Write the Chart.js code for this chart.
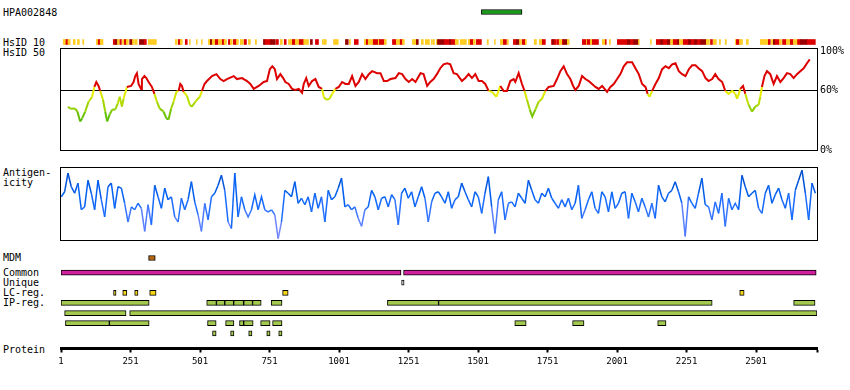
<!DOCTYPE html>
<html>
<head>
<meta charset="utf-8">
<script src="https://cdn.jsdelivr.net/npm/chart.js"></script>
<style>
body { margin:0; background:#fff; width:850px; height:390px; position:relative; overflow:hidden;
       font:10px "DejaVu Sans Mono", monospace; color:#000; }
canvas { position:absolute; left:0; }
.lbl { position:absolute; left:3px; line-height:10px; white-space:pre; }
</style>
</head>
<body>
<div class="lbl" style="top:8px">HPA002848</div>
<div class="lbl" style="top:38px">HsID 10</div>
<div class="lbl" style="top:48px">HsID 50</div>
<div class="lbl" style="top:168px">Antigen-
icity</div>
<div class="lbl" style="top:253px">MDM</div>
<div class="lbl" style="top:268px">Common</div>
<div class="lbl" style="top:278px">Unique</div>
<div class="lbl" style="top:288px">LC-reg.</div>
<div class="lbl" style="top:298px">IP-reg.</div>
<div class="lbl" style="top:345px">Protein</div>

<canvas id="cTop" width="850" height="50" style="top:0px"></canvas>
<canvas id="cHs50" width="850" height="120" style="top:40px"></canvas>
<canvas id="cAnt" width="850" height="90" style="top:160px"></canvas>
<canvas id="cMdm" width="850" height="16" style="top:250px"></canvas>
<canvas id="cFeat" width="850" height="128" style="top:262px"></canvas>

<script>
// protein / axis
var PROTEIN_LEN = 2720;
var AXIS_TICKS = [1, 251, 501, 751, 1001, 1251, 1501, 1751, 2001, 2251, 2501];

// antibody target region
var HPA_RANGE = [1513, 1659];

// HsID 10 strip: [start, end, level]  1 = yellow, 2 = red, 3 = dark red
var HSID10 = [
  [9,19,1],[19,26,2],[26,34,1],[45,52,1],[60,67,1],[79,83,1],[128,135,1],[135,142,2],[142,152,1],
  [189,196,2],[196,204,3],[204,211,1],[213,218,2],[222,229,1],[229,236,2],[236,243,1],[248,258,3],
  [258,265,1],[268,275,1],[283,301,3],[301,308,2],[315,344,1],[412,419,1],[423,430,2],[430,437,1],
  [448,455,2],[463,466,1],[488,491,1],[506,509,1],[531,538,1],[538,545,3],[545,556,1],[556,567,2],
  [567,581,1],[581,588,2],[588,596,1],[603,610,2],[610,617,1],[621,632,2],[632,639,1],[646,657,1],
  [660,668,2],[675,682,1],[700,704,1],[729,736,3],[736,754,2],[754,772,3],[775,783,2],[790,797,1],
  [804,811,2],[819,833,1],[833,844,2],[844,858,1],[858,874,2],[874,891,1],[898,905,3],[916,927,2],
  [941,945,1],[948,955,1],[981,998,1],[1024,1034,3],[1038,1042,1],[1056,1070,2],[1092,1099,1],
  [1099,1106,2],[1106,1124,1],[1124,1142,2],[1142,1146,1],[1146,1164,2],[1164,1171,1],[1193,1207,2],
  [1207,1221,1],[1221,1229,2],[1229,1236,1],[1265,1279,1],[1279,1286,3],[1297,1304,1],[1311,1326,1],
  [1333,1337,1],[1340,1344,1],[1351,1355,1],[1355,1380,3],[1380,1398,2],[1398,1405,3],[1405,1419,2],
  [1419,1430,1],[1437,1459,1],[1466,1473,1],[1473,1484,2],[1484,1491,1],[1495,1513,2],[1534,1538,1],
  [1560,1563,1],[1581,1592,1],[1592,1603,2],[1606,1610,1],[1628,1639,2],[1639,1650,3],[1650,1657,1],
  [1660,1671,2],[1671,1675,1],[1703,1711,1],[1721,1732,1],[1732,1743,2],[1765,1768,2],[1768,1775,3],
  [1775,1783,2],[1786,1793,2],[1793,1804,1],[1804,1808,2],[1808,1822,3],[1822,1829,1],[1876,1891,2],
  [1891,1894,1],[1894,1905,2],[1905,1912,1],[1912,1934,2],[1948,1959,1],[1959,1962,2],[1973,1977,1],
  [2002,2038,2],[2038,2049,3],[2049,2060,2],[2060,2078,3],[2078,2081,1],[2121,2124,1],[2142,2157,2],
  [2157,2167,3],[2167,2182,2],[2182,2193,3],[2193,2203,1],[2203,2218,2],[2218,2225,3],[2225,2239,1],
  [2239,2257,2],[2257,2268,3],[2268,2279,2],[2279,2290,3],[2290,2301,2],[2301,2322,3],[2322,2333,1],
  [2337,2344,2],[2347,2358,1],[2369,2373,1],[2390,2394,1],[2426,2430,1],[2430,2441,2],[2441,2452,1],
  [2466,2473,1],[2516,2545,1],[2545,2552,2],[2556,2563,1],[2563,2570,3],[2570,2585,2],[2585,2592,1],
  [2596,2610,2],[2610,2624,1],[2624,2635,2],[2635,2650,1],[2650,2660,2],[2660,2685,3],[2685,2714,2]
];
var HS10_COLORS = { 1: '#ffcc22', 2: '#dd0000', 3: '#990000' };

// HsID 50 (% identity), residue -> value
var HS50_RES = [26,34,52,60,70,77,88,100,113,121,128,136,142,152,160,167,176,185,196,205,212,220,226,238,
  253,262,268,274,280,289,292,301,308,316,328,337,346,356,370,380,388,397,406,416,424,430,436,442,454,464,
  472,484,500,508,517,526,544,560,574,586,598,622,634,652,670,682,694,712,730,742,752,761,770,778,790,800,
  808,820,832,844,856,868,874,883,892,904,916,928,940,946,955,967,976,988,1000,1012,1024,1036,1048,1060,
  1072,1084,1096,1108,1120,1138,1150,1162,1174,1186,1204,1216,1228,1240,1252,1264,1276,1294,1305,1318,
  1329,1341,1353,1365,1377,1390,1401,1413,1425,1443,1455,1467,1479,1491,1503,1515,1527,1539,1551,1567,
  1581,1593,1605,1617,1629,1635,1647,1659,1668,1677,1687,1696,1707,1719,1731,1743,1755,1773,1785,1797,
  1809,1821,1833,1843,1851,1863,1875,1887,1899,1911,1923,1935,1947,1959,1965,1977,1989,2001,2013,2025,
  2037,2055,2067,2079,2091,2103,2111,2118,2127,2139,2151,2163,2175,2187,2199,2211,2223,2235,2247,2259,
  2271,2283,2294,2307,2319,2330,2343,2354,2366,2379,2390,2402,2415,2426,2433,2444,2454,2462,2474,2486,
  2498,2510,2516,2522,2531,2540,2552,2564,2576,2588,2600,2612,2624,2636,2648,2660,2672,2684,2694];
var HS50_VAL = [44,42,42,39,29,32,39,49,54,64,69,65,60,51,39,29,36,41,41,47,54,44,52,64,
  65,69,75,78,67,62,72,75,73,69,64,57,49,42,39,32,31,42,49,59,60,67,65,59,55,46,
  44,49,54,60,67,70,75,77,72,70,72,75,72,73,70,67,62,65,69,70,82,85,82,72,77,73,
  69,67,62,61,62,58,67,73,65,70,72,64,62,54,51,52,57,62,64,69,67,67,75,65,
  69,77,72,77,80,78,78,70,70,72,73,78,77,72,69,72,69,78,77,65,
  69,72,77,83,87,88,87,78,77,70,73,77,73,77,70,70,67,60,59,54,
  65,60,60,70,72,69,78,67,60,51,41,34,41,49,52,60,64,65,72,80,
  85,77,72,65,61,65,75,72,70,67,64,62,65,61,59,64,67,72,77,85,
  89,89,83,77,67,64,57,54,60,67,73,82,85,83,87,88,80,77,75,82,
  86,86,83,80,73,70,72,77,72,69,60,57,60,57,52,62,65,57,46,39,
  44,46,54,64,75,80,77,67,75,69,73,78,77,73,77,80,83,88,92];
var HS50_TICKS = [0, 60, 100];

// antigenicity, sampled every 12 residues from residue 2 (0 = low, 100 = high)
var ANT_START = 2;
var ANT_STEP = 12;
var ANT_VALUES = [
  60,67,93,74,65,79,42,46,83,65, 42,83,56,32,74,79,44,74,72,51,
  25,46,42,51,44,12,49,21,76,60, 44,72,56,60,32,25,58,42,56,81,
  53,35,12,51,28,60,65,76,90,69, 25,16,93,32,60,42,32,42,63,42,
  60,42,39,42,35,2,
  25,69,65,60,81,51,58,49,60,39, 65,44,60,25,69,56,60,72,86,46,
  49,42,46,30,19,42,46,69,60,42, 58,60,46,63,56,21,65,72,58,67,
  46,60,74,58,25,53,65,67,60,51, 67,44,56,60,79,67,56,46,67,60,
  37,65,88,46,9,56,67,28,51,53, 46,65,58,51,83,69,56,51,65,60,
  72,58,51,44,56,
  46,58,42,51,76,30,42,56,67,44, 37,67,60,39,67,44,51,65,67,30,
  65,53,39,58,46,32,51,30,76,60, 53,65,69,81,67,51,5,60,51,44,
  65,86,49,46,28,53,37,65,19,58, 42,51,42,90,74,60,65,69,44,37,
  65,76,51,63,72,56,44,65,28,69, 83,97,65,28,79,65
];

// feature tracks
var MDM = [[316, 340]];
var COMMON = [[1, 1224], [1233, 2717]];
var UNIQUE = [[1226, 1235]];
var LC_REG = [[190,199],[223,238],[266,278],[320,343],[798,818],[2442,2458]];
var IP_REG = [
  [[1,318],[525,560],[560,590],[590,622],[622,658],[658,690],[690,721],[757,796],[1175,1359],[1359,2343],[2636,2713]],
  [[14,235],[248,2720]],
  [[17,175],[175,318],[528,559],[593,623],[643,658],[658,692],[719,753],[762,796],[1633,1674],[1841,1882],[2147,2177]],
  [[546,559],[611,623],[676,688],[741,753],[784,796]]
];
var FEAT_ROWS = ['Common', 'Unique', 'LC-reg.', 'IP-reg. 1', 'IP-reg. 2', 'IP-reg. 3', 'IP-reg. 4', 'spacer'];

Chart.defaults.font.family = '"DejaVu Sans Mono", monospace';
Chart.defaults.font.size = 10;
Chart.defaults.color = '#000';

var PAD_L = 61, PAD_R = 33;
var xHidden = { type: 'linear', min: 1, max: PROTEIN_LEN, display: false };
var common = { responsive: false, animation: false, events: [],
  plugins: { legend: { display: false }, tooltip: { enabled: false } } };

function mix(a, b, t) {
  return 'rgb(' + a.map(function (v, i) { return Math.round(v + (b[i] - v) * t); }).join(',') + ')';
}
function hs50Color(v) {
  if (v >= 60) return '#dd0000';
  var t = Math.min(1, Math.max(0, (60 - v) / 30));
  return mix([240, 240, 0], [80, 185, 0], t);
}
var ANT_STOPS = [[0, [140, 140, 255]], [25, [100, 130, 255]], [45, [30, 110, 255]], [65, [0, 95, 240]], [95, [0, 70, 190]]];
function antColor(v) {
  for (var i = 1; i < ANT_STOPS.length; i++) {
    if (v <= ANT_STOPS[i][0]) {
      var a = ANT_STOPS[i - 1], b = ANT_STOPS[i];
      return mix(a[1], b[1], (v - a[0]) / (b[0] - a[0]));
    }
  }
  return mix(ANT_STOPS[4][1], ANT_STOPS[4][1], 0);
}

var frame = {
  id: 'frame',
  afterDraw: function (chart) {
    var a = chart.chartArea, ctx = chart.ctx;
    ctx.save();
    ctx.strokeStyle = '#000';
    ctx.lineWidth = 1;
    ctx.strokeRect(a.left - 0.5, a.top - 0.5, a.right - a.left + 1, a.bottom - a.top + 1);
    ctx.restore();
  }
};

function ranges(list, row) {
  return list.map(function (r) { return { x: [r[0], r[1]], y: row }; });
}
function boxSet(data, fill) {
  return { data: data, backgroundColor: fill, borderColor: '#000', borderWidth: 1,
           borderSkipped: false, barThickness: 5, grouped: false };
}

// top: antibody region + HsID 10 strip
new Chart(document.getElementById('cTop'), {
  type: 'bar',
  data: {
    labels: ['hpa', 's1', 's2', 'hsid10'],
    datasets: [
      boxSet(ranges([HPA_RANGE], 'hpa'), '#1a9c1a'),
      { data: ranges(HSID10, 'hsid10'),
        backgroundColor: HSID10.map(function (s) { return HS10_COLORS[s[2]]; }),
        borderWidth: 0, barThickness: 5, grouped: false }
    ]
  },
  options: Object.assign({}, common, {
    indexAxis: 'y',
    layout: { padding: { left: PAD_L, right: PAD_R, top: 7, bottom: 3 } },
    scales: { x: xHidden, y: { display: false } }
  })
});

// HsID 50
new Chart(document.getElementById('cHs50'), {
  type: 'line',
  data: {
    datasets: [{
      data: HS50_RES.map(function (r, i) { return { x: r, y: HS50_VAL[i] }; }),
      borderColor: '#dd0000', borderWidth: 2, pointRadius: 0, tension: 0,
      segment: { borderColor: function (c) { return hs50Color((c.p0.parsed.y + c.p1.parsed.y) / 2); } }
    }]
  },
  options: Object.assign({}, common, {
    layout: { padding: { left: PAD_L, right: 0, top: 8, bottom: 10 } },
    scales: {
      x: xHidden,
      y: { min: 0, max: 102.5, position: 'right',
           afterFit: function (s) { s.width = PAD_R; },
           afterBuildTicks: function (s) { s.ticks = HS50_TICKS.map(function (v) { return { value: v }; }); },
           ticks: { padding: 3, callback: function (v) { return v + '%'; } },
           grid: { drawTicks: false, lineWidth: 1,
                   color: function (c) { return c.tick && c.tick.value === 60 ? '#000' : 'rgba(0,0,0,0)'; } },
           border: { display: false } }
    }
  }),
  plugins: [frame]
});

// antigenicity
new Chart(document.getElementById('cAnt'), {
  type: 'line',
  data: {
    datasets: [{
      data: ANT_VALUES.map(function (v, i) { return { x: ANT_START + i * ANT_STEP, y: v }; }),
      borderColor: '#1a6fff', borderWidth: 1.5, pointRadius: 0, tension: 0,
      segment: { borderColor: function (c) { return antColor((c.p0.parsed.y + c.p1.parsed.y) / 2); } }
    }]
  },
  options: Object.assign({}, common, {
    layout: { padding: { left: PAD_L, right: PAD_R, top: 8, bottom: 10 } },
    scales: { x: xHidden, y: { min: 0, max: 100, display: false } }
  }),
  plugins: [frame]
});

// MDM
new Chart(document.getElementById('cMdm'), {
  type: 'bar',
  data: { labels: ['MDM'], datasets: [boxSet(ranges(MDM, 'MDM'), '#b8650a')] },
  options: Object.assign({}, common, {
    indexAxis: 'y',
    layout: { padding: { left: PAD_L, right: PAD_R, top: 3, bottom: 3 } },
    scales: { x: xHidden, y: { display: false } }
  })
});

// feature rows + protein axis
var ipData = [];
IP_REG.forEach(function (row, i) { ipData = ipData.concat(ranges(row, FEAT_ROWS[3 + i])); });

new Chart(document.getElementById('cFeat'), {
  type: 'bar',
  data: {
    labels: FEAT_ROWS,
    datasets: [
      boxSet(ranges(COMMON, 'Common'), '#d21f9f'),
      boxSet(ranges(UNIQUE, 'Unique'), '#e8e8e8'),
      boxSet(ranges(LC_REG, 'LC-reg.'), '#f5d316'),
      boxSet(ipData, '#a3c94f')
    ]
  },
  options: Object.assign({}, common, {
    indexAxis: 'y',
    layout: { padding: { left: PAD_L, right: PAD_R, top: 5.5, bottom: 17.5 } },
    scales: {
      x: { type: 'linear', min: 1, max: PROTEIN_LEN, position: 'bottom',
           afterFit: function (s) { s.height = 24; },
           afterBuildTicks: function (s) {
             s.ticks = AXIS_TICKS.concat([PROTEIN_LEN]).map(function (v) { return { value: v }; });
           },
           ticks: { autoSkip: false, maxRotation: 0, padding: 4, font: { size: 9 },
                    callback: function (v) { return v === PROTEIN_LEN ? '' : String(v); } },
           grid: { drawOnChartArea: false, drawTicks: true, tickLength: 4, tickWidth: 2, tickColor: '#000' },
           border: { display: true, color: '#000', width: 3 } },
      y: { display: false }
    }
  })
});
</script>
</body>
</html>
